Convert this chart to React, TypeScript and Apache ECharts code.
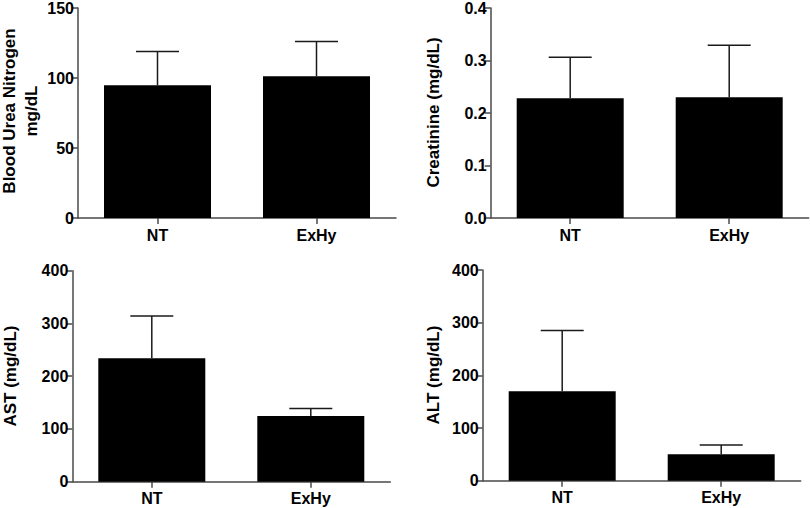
import React, { useEffect, useRef } from "react";
import * as echarts from "echarts";

const categories = ["NT", "ExHy"];

const bunMean = [94.8, 101.2];
const bunSd = [24.1, 24.8];

const creatMean = [0.228, 0.23];
const creatSd = [0.078, 0.099];

const astMean = [234, 124.5];
const astSd = [80, 14.5];

const altMean = [170, 50];
const altSd = [115, 18];

const yTitles = ["Blood Urea Nitrogen\nmg/dL", "Creatinine (mg/dL)", "AST (mg/dL)", "ALT (mg/dL)"];
const yMax = [150, 0.4, 400, 400];
const yStep = [50, 0.1, 100, 100];
const yDecimals = [0, 1, 0, 0];

const FONT = "'Liberation Sans', Arial, sans-serif";

export default function App() {
  const ref = useRef<HTMLDivElement>(null);

  useEffect(() => {
    if (!ref.current) return;
    const chart = echarts.init(ref.current, undefined, { renderer: "svg" });

    const grids = [
      { left: 78, top: 7, width: 318, height: 211 },
      { left: 490.7, top: 7, width: 318, height: 211 },
      { left: 72.3, top: 270.7, width: 318, height: 211 },
      { left: 482.7, top: 270, width: 318, height: 210.7 },
    ];
    const titlePos = [
      [20, 111],
      [433, 112.5],
      [10, 376],
      [433, 375],
    ];
    const means = [bunMean, creatMean, astMean, altMean];
    const sds = [bunSd, creatSd, astSd, altSd];

    const axisLine = { show: true, lineStyle: { color: "#4a4a4a", width: 1.5 } };

    const xAxis = grids.map((_, i) => ({
      type: "category" as const,
      gridIndex: i,
      data: categories,
      axisLine,
      axisTick: { show: true, alignWithLabel: true, length: 6, lineStyle: { color: "#4a4a4a", width: 1.5 } },
      axisLabel: { color: "#000", fontFamily: FONT, fontWeight: "bold", fontSize: 16, margin: 9 },
    }));

    const yAxis = grids.map((_, i) => ({
      type: "value" as const,
      gridIndex: i,
      min: 0,
      max: yMax[i],
      interval: yStep[i],
      splitLine: { show: false },
      axisLine,
      axisTick: { show: true, length: 6, lineStyle: { color: "#4a4a4a", width: 1.5 } },
      axisLabel: {
        color: "#000",
        fontFamily: FONT,
        fontWeight: "bold",
        fontSize: 16,
        margin: 4,
        formatter: (v: number) => v.toFixed(yDecimals[i]),
      },
    }));

    const series: any[] = [];
    grids.forEach((_, i) => {
      series.push({
        type: "bar",
        xAxisIndex: i,
        yAxisIndex: i,
        data: means[i],
        barWidth: 107,
        itemStyle: { color: "#000" },
        z: 2,
      });
      const errData = means[i].map((m, k) => [k, m, m + sds[i][k]]);
      series.push({
        type: "custom",
        xAxisIndex: i,
        yAxisIndex: i,
        data: errData,
        z: 3,
        renderItem: (_params: any, api: any) => {
          const idx = api.value(0);
          const base = api.coord([idx, api.value(1)]);
          const top = api.coord([idx, api.value(2)]);
          const half = 21.5;
          const style = { stroke: "#1a1a1a", lineWidth: 1.5 };
          return {
            type: "group",
            children: [
              { type: "line", shape: { x1: base[0], y1: base[1], x2: top[0], y2: top[1] }, style },
              { type: "line", shape: { x1: top[0] - half, y1: top[1], x2: top[0] + half, y2: top[1] }, style },
            ],
          };
        },
      });
    });

    const graphic = yTitles.map((t, i) => ({
      type: "text" as const,
      x: titlePos[i][0],
      y: titlePos[i][1],
      rotation: Math.PI / 2,
      style: {
        text: t,
        fill: "#000",
        font: `bold 17px ${FONT}`,
        lineHeight: 22,
        textAlign: "center" as const,
        textVerticalAlign: "middle" as const,
      },
    }));

    chart.setOption({
      animation: false,
      backgroundColor: "#fff",
      grid: grids.map((g) => ({ ...g, containLabel: false })),
      xAxis,
      yAxis,
      series,
      graphic,
    });

    return () => chart.dispose();
  }, []);

  return (
    <div
      ref={ref}
      style={{ position: "absolute", left: 0, top: 0, width: 810, height: 508, background: "#fff" }}
    />
  );
}
